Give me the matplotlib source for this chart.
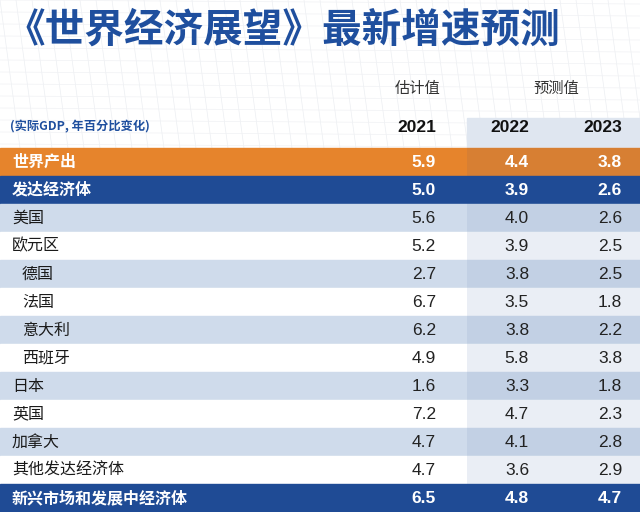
import matplotlib.pyplot as plt
from matplotlib.patches import Rectangle

plt.rcParams['font.family'] = ['Noto Sans CJK SC', 'DejaVu Sans']

title = '《世界经济展望》最新增速预测'
subtitle = '(实际GDP, 年百分比变化)'
years = ['2021', '2022', '2023']
groups = ['估计值', '预测值']

regions = ['世界产出', '发达经济体', '美国', '欧元区', '德国', '法国', '意大利',
           '西班牙', '日本', '英国', '加拿大', '其他发达经济体', '新兴市场和发展中经济体']
indent = [0, 0, 0, 0, 1, 1, 1, 1, 0, 0, 0, 0, 0]
v2021 = [5.9, 5.0, 5.6, 5.2, 2.7, 6.7, 6.2, 4.9, 1.6, 7.2, 4.7, 4.7, 6.5]
v2022 = [4.4, 3.9, 4.0, 3.9, 3.8, 3.5, 3.8, 5.8, 3.3, 4.7, 4.1, 3.6, 4.8]
v2023 = [3.8, 2.6, 2.6, 2.5, 2.5, 1.8, 2.2, 3.8, 1.8, 2.3, 2.8, 2.9, 4.7]

orange = '#e6842c'
navy = '#1f4b95'
light = '#cfdbeb'
title_blue = '#1f4f9e'

W, H = 640, 512
fig = plt.figure(figsize=(6.4, 5.12), dpi=100)
ax = fig.add_axes([0, 0, 1, 1])
ax.set_xlim(0, W)
ax.set_ylim(H, 0)
ax.axis('off')

top = 148
rh = 28
col_right = [436, 529, 622]

# faint background mesh
for k in range(0, W, 16):
    ax.plot([k, k + 20], [0, top], color='#eceef2', lw=0.5, zorder=0)
for k in range(0, top, 12):
    ax.plot([0, W], [k, k + 4], color='#f0f1f4', lw=0.5, zorder=0)

# forecast header box
ax.add_patch(Rectangle((467, 118), W - 467, top - 118, color='#dfe6f0', zorder=1))

for i, name in enumerate(regions):
    y0 = top + i * rh
    bold = False
    tc = '#1a1a1a'
    if i == 0:
        fc = orange
        bold, tc = True, 'white'
    elif name in ('发达经济体', '新兴市场和发展中经济体'):
        fc = navy
        bold, tc = True, 'white'
    elif i % 2 == 0:
        fc = light
    else:
        fc = 'white'
    ax.add_patch(Rectangle((0, y0), W, rh, color=fc, zorder=1))
    # forecast shading
    ax.add_patch(Rectangle((467, y0), W - 467, rh, color='#1f4b95',
                           alpha=0.07 if fc != 'white' else 0.09, lw=0, zorder=2))
    yc = y0 + rh / 2
    ax.text(12 + 10 * indent[i], yc, name, ha='left', va='center', fontsize=11.5,
            color=tc, fontweight='bold' if bold else 'medium', zorder=3)
    for xr, v in zip(col_right, (v2021[i], v2022[i], v2023[i])):
        ax.text(xr, yc + 0.5, f'{v:.1f}', ha='right', va='center', fontsize=12.5,
                color=tc if bold else '#222222', fontweight='bold' if bold else 'normal',
                family=['Liberation Sans', 'DejaVu Sans'], zorder=3)

ax.text(6, 30, title, ha='left', va='center', fontsize=28.5, fontweight='bold',
        color=title_blue, zorder=3)
ax.text(10, 127, subtitle, ha='left', va='center', fontsize=8.8, fontweight='bold',
        color=title_blue, zorder=3)
ax.text(418, 88, groups[0], ha='center', va='center', fontsize=11, color='#333333', zorder=3)
ax.text(556, 88, groups[1], ha='center', va='center', fontsize=11, color='#333333', zorder=3)
for xr, yr in zip(col_right, years):
    ax.text(xr, 128, yr, ha='right', va='center', fontsize=12.5, fontweight='bold',
            color='#111111', family=['Liberation Sans', 'DejaVu Sans'], zorder=3)

fig.savefig('out.png', dpi=100)
